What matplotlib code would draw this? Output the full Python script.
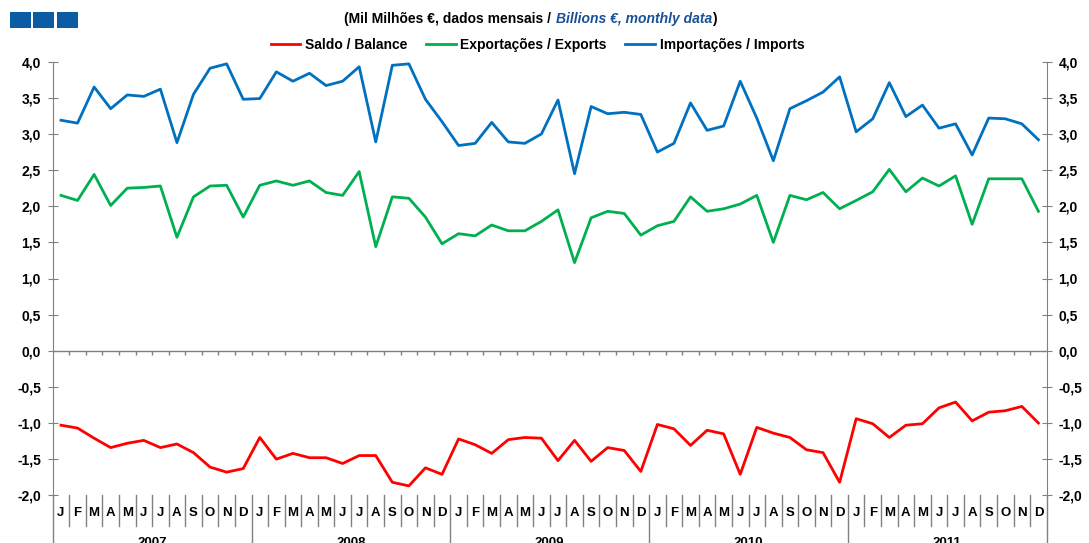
import matplotlib
matplotlib.use("Agg")
import matplotlib.pyplot as plt
from matplotlib.patches import Rectangle
from matplotlib.ticker import FuncFormatter
from matplotlib.transforms import blended_transform_factory

plt.rcParams["font.family"] = ["Liberation Sans", "DejaVu Sans"]

years = ["2007", "2008", "2009", "2010", "2011"]
month_letters = ["J", "F", "M", "A", "M", "J", "J", "A", "S", "O", "N", "D"]

imports = [
    3.19, 3.15, 3.65, 3.35, 3.54, 3.52, 3.62, 2.88, 3.55, 3.91, 3.97, 3.48,
    3.49, 3.86, 3.73, 3.84, 3.67, 3.73, 3.93, 2.89, 3.95, 3.97, 3.48, 3.17,
    2.84, 2.87, 3.16, 2.89, 2.87, 3.00, 3.47, 2.45, 3.38, 3.28, 3.30, 3.27,
    2.75, 2.87, 3.43, 3.05, 3.11, 3.73, 3.22, 2.63, 3.35, 3.46, 3.58, 3.79,
    3.03, 3.21, 3.71, 3.24, 3.40, 3.08, 3.14, 2.71, 3.22, 3.21, 3.14, 2.92,
]
exports = [
    2.15, 2.08, 2.44, 2.01, 2.25, 2.26, 2.28, 1.57, 2.13, 2.28, 2.29, 1.85,
    2.29, 2.35, 2.29, 2.35, 2.19, 2.15, 2.48, 1.44, 2.13, 2.11, 1.85, 1.48,
    1.62, 1.59, 1.74, 1.66, 1.66, 1.79, 1.95, 1.22, 1.84, 1.93, 1.90, 1.60,
    1.73, 1.79, 2.13, 1.93, 1.965, 2.03, 2.15, 1.50, 2.15, 2.09, 2.19, 1.965,
    2.08, 2.20, 2.51, 2.20, 2.39, 2.28, 2.42, 1.75, 2.38, 2.38, 2.38, 1.93,
]
balance = [
    -1.03, -1.07, -1.21, -1.34, -1.28, -1.24, -1.34, -1.29, -1.41, -1.61, -1.68, -1.63,
    -1.20, -1.50, -1.42, -1.48, -1.48, -1.56, -1.45, -1.45, -1.82, -1.87, -1.62, -1.71,
    -1.22, -1.30, -1.42, -1.23, -1.20, -1.21, -1.52, -1.24, -1.53, -1.34, -1.38, -1.67,
    -1.02, -1.08, -1.31, -1.10, -1.15, -1.71, -1.06, -1.14, -1.20, -1.37, -1.41, -1.82,
    -0.94, -1.01, -1.20, -1.03, -1.01, -0.79, -0.71, -0.97, -0.85, -0.83, -0.77, -1.00,
]

W, H = 1089, 543
fig = plt.figure(figsize=(W / 100, H / 100), dpi=100)

# axes box in pixels: x 52.7..1046.7, y(4.0)=61.7, y(-2.0)=495.3
left, right, top, bottom = 52.7, 1046.7, 61.7, 495.3
ax = fig.add_axes([left / W, 1 - bottom / H, (right - left) / W, (bottom - top) / H])

n = len(imports)
x = list(range(n))
grey = "#808080"

ax.plot(x, balance, color="#FF0000", lw=2, label="Saldo / Balance")
ax.plot(x, exports, color="#00B050", lw=2, label="Exportações / Exports")
ax.plot(x, imports, color="#0070C0", lw=2, label="Importações / Imports")

ax.set_xlim(-0.5, n - 0.5)
ax.set_ylim(-2.0, 4.0)
ax.set_yticks([i * 0.5 for i in range(-4, 9)])
ax.yaxis.set_major_formatter(FuncFormatter(lambda v, p: f"{v:.1f}".replace(".", ",")))
ax.set_xticks([])
for s in ["top", "bottom"]:
    ax.spines[s].set_visible(False)
for s in ["left", "right"]:
    ax.spines[s].set_color(grey)
ax.tick_params(axis="y", direction="inout", length=7, color=grey, right=True,
               labelright=True, labelsize=10, pad=5)
for lab in ax.get_yticklabels():
    lab.set_fontweight("bold")

# zero line with small ticks between months
ax.axhline(0, color=grey, lw=1)
ax.vlines([i + 0.5 for i in range(n - 1)], -0.06, 0, color=grey, lw=1)

# category labels below the plot
tr = blended_transform_factory(ax.transData, ax.transAxes)
for i in range(n):
    ax.text(i, -0.041, month_letters[i % 12], transform=tr, ha="center", va="center",
            fontsize=9.5, fontweight="bold")
for i in range(n - 1):
    if (i + 1) % 12 == 0:
        continue
    ax.plot([i + 0.5, i + 0.5], [0, -0.07], transform=tr, color=grey, lw=1, clip_on=False)
for b in range(0, n + 1, 12):
    ax.plot([b - 0.5, b - 0.5], [0, -0.12], transform=tr, color=grey, lw=1, clip_on=False)
for k, yr in enumerate(years):
    ax.text(12 * k + 5.5, -0.097, yr, transform=tr, ha="center", va="top",
            fontsize=9.5, fontweight="bold")

# blue squares top-left
for x0 in [10, 33.3, 57.3]:
    fig.add_artist(Rectangle((x0 / W, 1 - 27.7 / H), 21 / W, 16 / H,
                             transform=fig.transFigure, color="#0B5CA5", lw=0))

# title, mixed colours
t1 = fig.text(555 / W, 1 - 19 / H, "(Mil Milhões €, dados mensais / ", ha="right",
              va="center", fontsize=10, fontweight="bold")
t2 = fig.text(556 / W, 1 - 19 / H, "Billions €, monthly data", ha="left", va="center",
              fontsize=10, fontweight="bold", style="italic", color="#1A5196")
fig.add_artist(plt.Annotation(")", xy=(1, 0.5), xycoords=t2, va="center", ha="left",
                              fontsize=10, fontweight="bold"))

fig.legend(loc="center", bbox_to_anchor=(537.5 / W, 1 - 45 / H), ncol=3, frameon=False,
           prop={"size": 10, "weight": "bold"}, handlelength=2.15, columnspacing=1.3,
           handletextpad=0.35)

fig.savefig("out.png", dpi=100)
